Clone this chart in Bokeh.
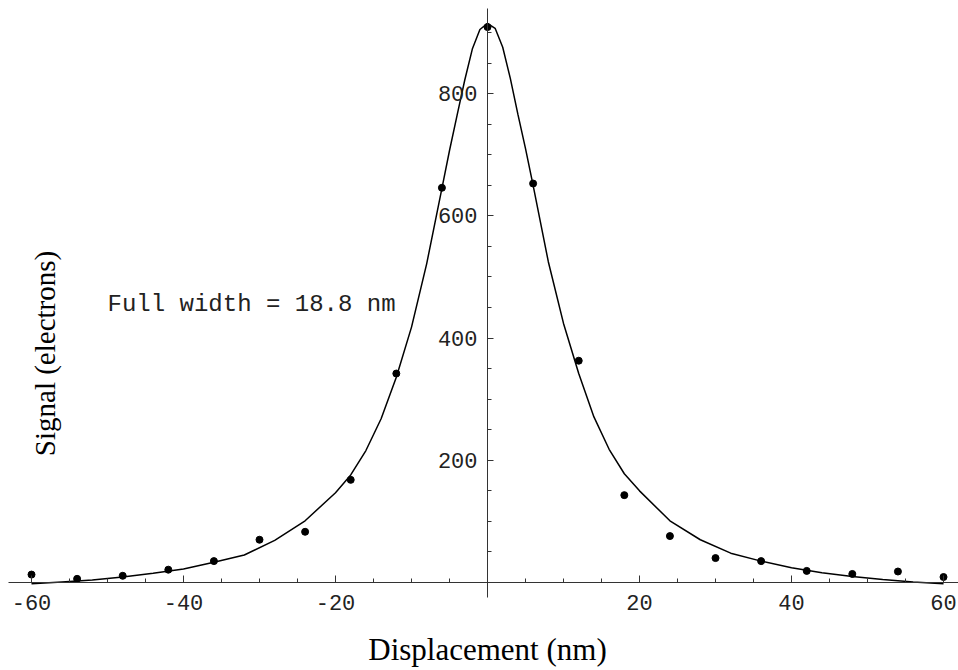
import math
from bokeh.plotting import figure
from bokeh.models import LinearAxis, FixedTicker, Range1d, Label
from bokeh.embed import file_html
from bokeh.resources import INLINE

# measured points
disp_nm = [-60, -54, -48, -42, -36, -30, -24, -18, -12, -6, 0,
           6, 12, 18, 24, 30, 36, 42, 48, 54, 60]
signal_e = [13, 6, 11, 21, 35, 70, 83, 168, 342, 646, 909,
            653, 363, 143, 76, 40, 35, 19, 14, 18, 9]

# fitted curve
curve_x = [-60, -56, -52, -48, -44, -40, -36, -32, -28, -24, -20, -18, -16, -14,
           -12, -10, -8, -6, -5, -4, -3, -2, -1, 0,
           1, 2, 3, 4, 5, 6, 8, 10, 12, 14, 16, 18, 20, 24, 28, 32, 36, 40,
           44, 48, 52, 56, 60]
curve_y = [-2, 1, 4, 9, 15, 22, 33, 45, 69, 101, 147, 176, 216, 268,
           336, 418, 522, 645, 707, 765, 822, 873, 905, 915,
           907, 876, 825, 766, 710, 650, 525, 424, 342, 271, 218, 178, 150, 101, 70, 48, 35, 24,
           16, 10, 5, 1, -2]

x_major = [-60, -40, -20, 20, 40, 60]
x_labels = ["-60", "-40", "-20", "20", "40", "60"]
x_minor = [-55, -50, -45, -35, -30, -25, -15, -10, -5, 5, 10, 15, 25, 30, 35, 45, 50, 55]
y_major = [200, 400, 600, 800]
y_labels = ["200", "400", "600", "800"]
y_minor = [50, 100, 150, 250, 300, 350, 450, 500, 550, 650, 700, 750, 850, 900]

W, H = 958, 670
p = figure(width=W, height=H, output_backend="svg", toolbar_location=None,
           x_axis_type=None, y_axis_type=None,
           x_range=Range1d(-64.08, 61.97), y_range=Range1d(-144.0, 952.5),
           min_border=0, min_border_left=0, min_border_right=0,
           min_border_top=0, min_border_bottom=0)
p.outline_line_color = None
p.background_fill_color = "white"
p.border_fill_color = "white"

tick_font = "Liberation Mono"

xax = LinearAxis(fixed_location=0, bounds=(-63.0, 62.0))
xax.ticker = FixedTicker(ticks=x_major, minor_ticks=x_minor)
xax.major_label_overrides = {v: s for v, s in zip(x_major, x_labels)}
xax.major_tick_in = 7
xax.major_tick_out = 0
xax.minor_tick_in = 4
xax.minor_tick_out = 0
xax.major_label_standoff = 12
xax.major_label_text_font = tick_font
xax.major_label_text_font_size = "22px"
xax.major_label_text_color = "#222222"
xax.axis_line_color = "#333333"
xax.major_tick_line_color = "#333333"
xax.minor_tick_line_color = "#333333"
p.add_layout(xax, "below")

yax = LinearAxis(fixed_location=0, bounds=(-24.5, 939))
yax.ticker = FixedTicker(ticks=y_major, minor_ticks=y_minor)
yax.major_label_overrides = {v: s for v, s in zip(y_major, y_labels)}
yax.major_tick_in = 6
yax.major_tick_out = 0
yax.minor_tick_in = 4
yax.minor_tick_out = 0
yax.major_label_standoff = 10
yax.major_label_orientation = "horizontal"
yax.major_label_text_font = tick_font
yax.major_label_text_font_size = "22px"
yax.major_label_text_color = "#222222"
yax.axis_line_color = "#333333"
yax.major_tick_line_color = "#333333"
yax.minor_tick_line_color = "#333333"
p.add_layout(yax, "left")

p.line(curve_x, curve_y, line_color="black", line_width=1.5)
p.scatter(disp_nm, signal_e, size=7, fill_color="black", line_color="black")

p.add_layout(Label(x=-50, y=455, text="Full width = 18.8 nm",
                   text_font=tick_font, text_font_size="24px",
                   text_color="#222222", text_baseline="alphabetic", text_align="left"))

p.add_layout(Label(x=0, y=21, y_units="screen", text="Displacement (nm)",
                   text_font="Liberation Serif", text_font_size="31px",
                   text_color="black", text_align="center", text_baseline="alphabetic"))

p.add_layout(Label(x=44, y=317, x_units="screen", y_units="screen",
                   text="Signal (electrons)", angle=math.pi / 2,
                   text_font="Liberation Serif", text_font_size="29px",
                   text_color="black", text_align="center", text_baseline="alphabetic"))

open("out.html", "w").write(file_html(p, INLINE))
